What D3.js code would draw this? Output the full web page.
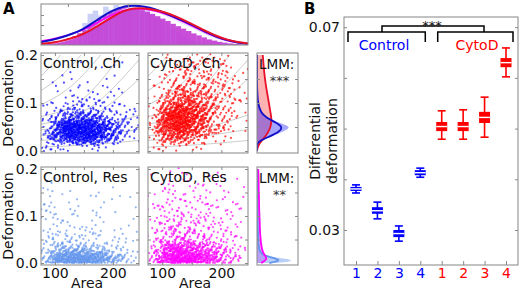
<!DOCTYPE html>
<html lang="en">
<head>
<meta charset="UTF-8">
<title>Deformation, Ch vs Res</title>
<style>
  body { margin: 0; background: #fff; }
  svg text { font-family: "DejaVu Sans", sans-serif; }
  .frame { fill: none; stroke: #858585; stroke-width: 1; }
</style>
</head>
<body>
<svg width="520" height="290"></svg>
<script src="https://d3js.org/d3.v7.min.js"></script>
<script>

// ---------------- data ----------------

// scatter panels: dot counts per cell, rows = deformation bins (bottom to top), cols = area bins
const areaDomain = [76, 245];
const areaEdges = [76, 95, 114, 133, 152, 171, 190, 209, 228, 247];
const defEdges = [0, 0.02, 0.04, 0.06, 0.08, 0.10, 0.12, 0.14, 0.16, 0.18, 0.20];

const controlCh = [
  [6, 5, 4, 3, 3, 2, 1, 1, 1],
  [8, 45, 75, 85, 75, 55, 30, 10, 3],
  [6, 50, 90, 100, 90, 65, 35, 12, 6],
  [4, 16, 28, 34, 30, 22, 12, 6, 5],
  [2, 5, 8, 10, 9, 7, 5, 3, 1],
  [1, 2, 3, 4, 4, 3, 2, 1, 0],
  [0, 1, 2, 2, 2, 2, 1, 1, 0],
  [0, 1, 1, 1, 1, 1, 1, 0, 0],
  [0, 0, 1, 1, 0, 1, 0, 1, 0],
  [0, 0, 0, 1, 0, 0, 1, 0, 0]
];
const cytoCh = [
  [3, 5, 4, 3, 2, 1, 1, 0, 0],
  [6, 30, 40, 32, 18, 9, 4, 2, 1],
  [8, 55, 80, 65, 40, 18, 8, 4, 2],
  [6, 55, 85, 75, 45, 24, 11, 5, 2],
  [4, 32, 55, 55, 38, 22, 11, 5, 2],
  [2, 14, 30, 32, 25, 16, 10, 5, 2],
  [1, 7, 15, 19, 16, 12, 8, 4, 2],
  [0, 3, 8, 12, 12, 10, 7, 4, 2],
  [0, 2, 5, 8, 8, 7, 5, 3, 2],
  [0, 1, 3, 5, 5, 5, 4, 2, 1]
];
const controlRes = [
  [18, 75, 100, 100, 90, 70, 40, 16, 5],
  [10, 24, 26, 24, 18, 14, 9, 5, 2],
  [6, 8, 8, 7, 6, 5, 3, 2, 1],
  [5, 4, 4, 3, 3, 2, 2, 1, 1],
  [4, 3, 3, 2, 2, 2, 1, 1, 0],
  [4, 2, 2, 2, 1, 2, 1, 0, 1],
  [3, 2, 1, 1, 1, 1, 1, 1, 0],
  [3, 1, 1, 0, 1, 1, 0, 1, 0],
  [2, 1, 0, 0, 0, 0, 1, 0, 0],
  [1, 0, 0, 0, 0, 0, 0, 0, 0]
];
const cytoRes = [
  [12, 70, 95, 95, 80, 55, 28, 12, 4],
  [8, 45, 65, 60, 45, 30, 15, 7, 3],
  [6, 16, 20, 18, 15, 11, 7, 4, 2],
  [5, 10, 12, 10, 9, 7, 5, 3, 2],
  [4, 7, 8, 8, 7, 5, 4, 3, 1],
  [3, 5, 6, 6, 5, 4, 3, 2, 1],
  [2, 4, 4, 4, 4, 3, 3, 2, 1],
  [2, 3, 3, 3, 3, 3, 2, 2, 1],
  [1, 2, 2, 2, 2, 2, 2, 1, 1],
  [1, 1, 1, 2, 1, 1, 1, 1, 0]
];

// grey isoelasticity lines (area, deformation)
const isoLines = [
  [[76, 0.156], [93, 0.177], [110, 0.2]],
  [[76, 0.126], [112, 0.158], [145, 0.2]],
  [[76, 0.096], [128, 0.135], [179, 0.2]],
  [[76, 0.072], [145, 0.105], [214, 0.2]],
  [[76, 0.056], [160, 0.09], [245, 0.19]],
  [[76, 0.044], [160, 0.07], [245, 0.15]],
  [[76, 0.032], [160, 0.045], [245, 0.075]],
  [[76, 0.022], [160, 0.03], [245, 0.045]],
  [[76, 0.008], [160, 0.013], [245, 0.022]]
];

// top histogram (40 bins, relative height)
const topHist = [0.05, 0.06, 0.08, 0.10, 0.13, 0.17, 0.22, 0.29, 0.37, 0.47,
  0.57, 0.66, 0.74, 0.82, 0.88, 0.92, 0.94, 0.93, 0.91, 0.87,
  0.83, 0.78, 0.72, 0.66, 0.60, 0.53, 0.47, 0.41, 0.35, 0.29,
  0.24, 0.19, 0.14, 0.11, 0.08, 0.06, 0.04, 0.03, 0.02, 0.02];
const topHistLight = [0, 0, 0, 0, 0, 0, 0.05, 0.30, 0.55, 0.78,
  0.86, 0.74, 0.96, 0.88, 1.0, 0.90, 1.0, 0.95, 0.97, 0.88,
  0.86, 0.76, 0.70, 0.60, 0.50, 0.40, 0.32, 0.24, 0.17, 0.12,
  0.08, 0.05, 0.03, 0.02, 0.02, 0.02, 0.02, 0.02, 0.02, 0.02];
// fitted curves, sampled every 2 bins
const topFitBins = [0, 2, 4, 6, 8, 10, 12, 14, 16, 18, 20, 22, 24, 26, 28, 30, 32, 34, 36, 38, 40];
const topFitBlue = [0.07, 0.12, 0.19, 0.28, 0.38, 0.55, 0.73, 0.87, 0.97, 0.99, 0.96, 0.90, 0.80, 0.68, 0.58, 0.45, 0.32, 0.20, 0.12, 0.06, 0.03];
const topFitRed = [0.03, 0.05, 0.10, 0.17, 0.26, 0.40, 0.56, 0.72, 0.86, 0.92, 0.92, 0.88, 0.82, 0.72, 0.60, 0.47, 0.34, 0.22, 0.13, 0.07, 0.04];
const topFitMagenta = [0.10, 0.14, 0.20, 0.28, 0.37, 0.50, 0.64, 0.77, 0.87, 0.91, 0.90, 0.86, 0.78, 0.67, 0.55, 0.42, 0.30, 0.19, 0.11, 0.06, 0.03];
const topFitLight = [0.02, 0.04, 0.08, 0.15, 0.26, 0.42, 0.60, 0.77, 0.90, 0.95, 0.92, 0.85, 0.74, 0.62, 0.50, 0.38, 0.26, 0.16, 0.09, 0.04, 0.02];

// marginal deformation densities (LMM panels)
const margDef = [0, 0.005, 0.01, 0.015, 0.02, 0.03, 0.04, 0.05, 0.06, 0.07, 0.08, 0.1, 0.12, 0.14, 0.16, 0.18, 0.2];
const chBlueHist = [0, 0, 0, 0.02, 0.06, 0.35, 0.62, 0.87, 0.50, 0.24, 0.10, 0.03, 0.01, 0.01, 0, 0, 0];
const chBlueLine = [0, 0, 0, 0.01, 0.04, 0.30, 0.55, 0.63, 0.45, 0.22, 0.09, 0.02, 0.01, 0, 0, 0, 0];
const chRedLine = [0, 0.01, 0.03, 0.06, 0.10, 0.20, 0.28, 0.33, 0.35, 0.35, 0.33, 0.29, 0.25, 0.21, 0.18, 0.16, 0.14];
const resLightHist = [0.50, 0.97, 0.60, 0.25, 0.12, 0.06, 0.04, 0.03, 0.03, 0.02, 0.02, 0.02, 0.01, 0.01, 0.01, 0.01, 0];
const resLightLine = [0.30, 0.58, 0.45, 0.20, 0.10, 0.05, 0.04, 0.03, 0.03, 0.02, 0.02, 0.02, 0.01, 0.01, 0.01, 0.01, 0];
const resMagentaLine = [0.10, 0.20, 0.24, 0.20, 0.16, 0.12, 0.10, 0.09, 0.08, 0.07, 0.07, 0.06, 0.05, 0.05, 0.04, 0.04, 0.03];

// panel B: differential deformation per measurement
const measurements = ['C1', 'C2', 'C3', 'C4', 'D1', 'D2', 'D3', 'D4'];
const whiskerLow = [0.0373, 0.0322, 0.0278, 0.0404, 0.0479, 0.0479, 0.0483, 0.0602];
const quartileLow = [0.0377, 0.0332, 0.0286, 0.0408, 0.0495, 0.0495, 0.0511, 0.0621];
const medians = [0.0381, 0.0338, 0.0293, 0.0413, 0.0504, 0.0504, 0.0522, 0.0630];
const quartileHigh = [0.0385, 0.0345, 0.0300, 0.0418, 0.0513, 0.0513, 0.0533, 0.0639];
const whiskerHigh = [0.0389, 0.0355, 0.0308, 0.0422, 0.0535, 0.0537, 0.0562, 0.0659];
const bTickValues = [0.03, 0.04, 0.05, 0.06, 0.07];

// ---------------- drawing ----------------

const BLUE = '#0000ff', RED = '#ff0000', LIGHT = '#6495ed', MAGENTA = '#ff00ff';
const svg = d3.select('svg');

function frac(v) { return v - Math.floor(v); }

// 4-d additive recurrence (plastic-number generalisation), used to lay dots out evenly
const R4 = [0.8566748839, 0.7338918566, 0.6287067210, 0.5385972572];

function styleAxis(g, size) {
  g.select('.domain').remove();
  g.selectAll('line').attr('stroke', '#8a8a8a');
  g.selectAll('text').attr('font-size', size).attr('font-family', 'DejaVu Sans').attr('fill', '#111');
}

function clipRect(id, x0, y0, x1, y1) {
  svg.append('clipPath').attr('id', id).append('rect')
    .attr('x', x0).attr('y', y0).attr('width', x1 - x0).attr('height', y1 - y0);
}

// ----- top histogram
(function () {
  const x0 = 41, x1 = 248, y0 = 4, y1 = 45;
  const x = d3.scaleLinear().domain([0, 40]).range([x0, x1]);
  const y = d3.scaleLinear().domain([0, 1]).range([y1, y0 + 1]);
  clipRect('clipTop', x0, y0, x1, y1);
  const g = svg.append('g').attr('clip-path', 'url(#clipTop)');

  g.selectAll('rect.light').data(topHistLight).join('rect')
    .attr('x', (d, i) => x(i)).attr('width', x(1) - x(0) + 0.3)
    .attr('y', d => y(d)).attr('height', d => y1 - y(d))
    .attr('fill', '#b3bcf2').attr('opacity', 0.7);
  g.selectAll('rect.main').data(topHist).join('rect')
    .attr('x', (d, i) => x(i)).attr('width', x(1) - x(0) + 0.3)
    .attr('y', d => y(d)).attr('height', d => y1 - y(d))
    .attr('fill', '#c440d6').attr('opacity', 0.92);

  const line = vals => d3.line().x((d, i) => x(topFitBins[i])).y(d => y(d)).curve(d3.curveBasis)(vals);
  g.append('path').attr('d', line(topFitLight)).attr('fill', 'none').attr('stroke', '#e2e4ff').attr('stroke-width', 1.2);
  g.append('path').attr('d', line(topFitMagenta)).attr('fill', 'none').attr('stroke', MAGENTA).attr('stroke-width', 1.6);
  g.append('path').attr('d', line(topFitBlue)).attr('fill', 'none').attr('stroke', '#1010c8').attr('stroke-width', 2);
  g.append('path').attr('d', line(topFitRed)).attr('fill', 'none').attr('stroke', '#e8102a').attr('stroke-width', 2);

  svg.append('rect').attr('class', 'frame').attr('x', x0).attr('y', y0).attr('width', x1 - x0).attr('height', y1 - y0);
  const yl = svg.append('g').attr('transform', `translate(${x0},0)`)
    .call(d3.axisLeft(y).tickValues([0.25, 0.5, 0.75]).tickSize(-3).tickFormat(''));
  styleAxis(yl, 10);
  const xt = svg.append('g').attr('transform', `translate(0,${y0})`)
    .call(d3.axisTop(x).tickValues([5.2, 16.8, 28.4]).tickSize(-3).tickFormat(''));
  styleAxis(xt, 10);
})();

// ----- scatter panels
const scatterPanels = [
  { id: 'sc1', grid: controlCh, color: BLUE, x0: 41, x1: 139, y0: 53, y1: 153, title: 'Control, Ch', iso: true, left: true, bottom: false },
  { id: 'sc2', grid: cytoCh, color: RED, x0: 148, x1: 248, y0: 53, y1: 153, title: 'CytoD, Ch', iso: true, left: false, bottom: false },
  { id: 'sc3', grid: controlRes, color: LIGHT, x0: 41, x1: 139, y0: 167, y1: 265, title: 'Control, Res', iso: false, left: true, bottom: true },
  { id: 'sc4', grid: cytoRes, color: MAGENTA, x0: 148, x1: 248, y0: 167, y1: 265, title: 'CytoD, Res', iso: false, left: false, bottom: true }
];

function defScale(p) {
  return d3.scaleLinear().domain([0, 0.2]).range([p.y1 - 2, p.y0 + 2]);
}

scatterPanels.forEach((p, pi) => {
  const x = d3.scaleLinear().domain(areaDomain).range([p.x0, p.x1]);
  const y = defScale(p);
  clipRect(p.id, p.x0, p.y0, p.x1, p.y1);
  const g = svg.append('g').attr('clip-path', `url(#${p.id})`);

  if (p.iso) {
    const line = d3.line().x(d => x(d[0])).y(d => y(d[1])).curve(d3.curveMonotoneX);
    g.selectAll('path.iso').data(isoLines).join('path').attr('class', 'iso')
      .attr('d', line).attr('fill', 'none').attr('stroke', '#c6c6c6').attr('stroke-width', 0.9);
  }

  // each cell's dots spread over the cell and half of its neighbours (triangular kernel),
  // laid out with a fixed low-discrepancy sequence so the density changes smoothly
  const pts = [];
  let n0 = pi * 5000;
  p.grid.forEach((row, ri) => row.forEach((n, ci) => {
    const aw = areaEdges[ci + 1] - areaEdges[ci];
    const dw = defEdges[ri + 1] - defEdges[ri];
    for (let k = 0; k < n; k++) {
      const j = n0 + k;
      const u = frac(0.5 + j * R4[0]) + frac(0.5 + j * R4[1]) - 0.5;
      const v = frac(0.5 + j * R4[2]) + frac(0.5 + j * R4[3]) - 0.5;
      let d = defEdges[ri] + v * dw;
      if (d < 0) d = -d;
      pts.push([areaEdges[ci] + u * aw, d]);
    }
    n0 += n + 7;
  }));
  g.selectAll('circle').data(pts).join('circle')
    .attr('cx', d => x(d[0])).attr('cy', d => y(d[1]))
    .attr('r', 1.1).attr('fill', p.color).attr('fill-opacity', 0.7);

  svg.append('rect').attr('class', 'frame')
    .attr('x', p.x0).attr('y', p.y0).attr('width', p.x1 - p.x0).attr('height', p.y1 - p.y0);

  const yTicks = [0, 0.05, 0.1, 0.15, 0.2];
  const yl = svg.append('g').attr('transform', `translate(${p.x0},0)`)
    .call(d3.axisLeft(y).tickValues(yTicks).tickSize(-3).tickPadding(3)
      .tickFormat(d => (p.left && Math.round(d * 100) % 10 === 0) ? d3.format('.1f')(d) : ''));
  styleAxis(yl, 14);
  const yr = svg.append('g').attr('transform', `translate(${p.x1},0)`)
    .call(d3.axisRight(y).tickValues(yTicks).tickSize(-3).tickFormat(''));
  styleAxis(yr, 10);

  const xTicks = [100, 150, 200];
  const xb = svg.append('g').attr('transform', `translate(0,${p.y1})`)
    .call(d3.axisBottom(x).tickValues(xTicks).tickSize(-3).tickPadding(3)
      .tickFormat(d => (p.bottom && d !== 150) ? d : ''));
  styleAxis(xb, 14);
  const xtp = svg.append('g').attr('transform', `translate(0,${p.y0})`)
    .call(d3.axisTop(x).tickValues(xTicks).tickSize(-3).tickFormat(''));
  styleAxis(xtp, 10);

  svg.append('text').attr('x', p.x0 + 2).attr('y', p.y0 + 15)
    .attr('font-size', 14).attr('fill', '#111').text(p.title);

  if (p.bottom) {
    svg.append('text').attr('x', (p.x0 + p.x1) / 2 - 3).attr('y', 288)
      .attr('text-anchor', 'middle').attr('font-size', 14).attr('fill', '#111').text('Area');
  }
  if (p.left) {
    svg.append('text')
      .attr('transform', `translate(13,${(p.y0 + p.y1) / 2}) rotate(-90)`)
      .attr('text-anchor', 'middle').attr('font-size', 14).attr('fill', '#111').text('Deformation');
  }
});

// ----- marginal LMM panels
const margPanels = [
  { id: 'mg1', y0: 53, y1: 153, stars: '***',
    fills: [[chRedLine, RED, 0.3], [chBlueHist, BLUE, 0.35]],
    lines: [[chRedLine, '#e8102a'], [chBlueLine, '#1010c8']] },
  { id: 'mg2', y0: 167, y1: 265, stars: '**',
    fills: [[resMagentaLine, MAGENTA, 0.35], [resLightHist, LIGHT, 0.45]],
    lines: [[resLightLine, LIGHT], [resMagentaLine, MAGENTA]] }
];

margPanels.forEach(p => {
  const x0 = 257, x1 = 298;
  const x = d3.scaleLinear().domain([0, 1]).range([x0, x1]);
  const y = defScale(p);
  clipRect(p.id, x0, p.y0, x1, p.y1);
  const g = svg.append('g').attr('clip-path', `url(#${p.id})`);

  const area = d3.area().y((d, i) => y(margDef[i])).x0(x0).x1(d => x(d)).curve(d3.curveBasis);
  const line = d3.line().y((d, i) => y(margDef[i])).x(d => x(d)).curve(d3.curveBasis);
  p.fills.forEach(f => {
    g.append('path').attr('d', area(f[0])).attr('fill', f[1]).attr('fill-opacity', f[2]);
  });
  p.lines.forEach(l => {
    g.append('path').attr('d', line(l[0])).attr('fill', 'none').attr('stroke', l[1]).attr('stroke-width', 1.8);
  });

  svg.append('rect').attr('class', 'frame').attr('x', x0).attr('y', p.y0).attr('width', x1 - x0).attr('height', p.y1 - p.y0);
  const yTicks = [0.05, 0.1, 0.15];
  const yr = svg.append('g').attr('transform', `translate(${x1},0)`)
    .call(d3.axisRight(y).tickValues(yTicks).tickSize(-3).tickFormat(''));
  styleAxis(yr, 10);
  const yl = svg.append('g').attr('transform', `translate(${x0},0)`)
    .call(d3.axisLeft(y).tickValues(yTicks).tickSize(-3).tickFormat(''));
  styleAxis(yl, 10);

  svg.append('text').attr('x', x0 + 2).attr('y', p.y0 + 16)
    .attr('font-size', 13.5).attr('fill', '#111').text('LMM:');
  svg.append('text').attr('x', (x0 + x1) / 2 + 2).attr('y', p.y0 + 32)
    .attr('text-anchor', 'middle').attr('font-size', 13).attr('fill', '#333').text(p.stars);
});

// ----- panel B
(function () {
  const x0 = 344, x1 = 518, y0 = 17, y1 = 265;
  const x = d3.scalePoint().domain(measurements).range([356, 506]);
  const y = d3.scaleLinear().domain([0.0231, 0.0720]).range([y1, y0]);
  const colorOf = m => m[0] === 'C' ? BLUE : RED;

  svg.append('rect').attr('class', 'frame').attr('x', x0).attr('y', y0).attr('width', x1 - x0).attr('height', y1 - y0);

  const yl = svg.append('g').attr('transform', `translate(${x0},0)`)
    .call(d3.axisLeft(y).tickValues(bTickValues).tickSize(-3).tickPadding(4)
      .tickFormat(d => (d === 0.03 || d === 0.07) ? d3.format('.2f')(d) : ''));
  styleAxis(yl, 14);
  const yr = svg.append('g').attr('transform', `translate(${x1},0)`)
    .call(d3.axisRight(y).tickValues(bTickValues).tickSize(-3).tickFormat(''));
  styleAxis(yr, 10);
  const xb = svg.append('g').attr('transform', `translate(0,${y1})`)
    .call(d3.axisBottom(x).tickSize(-4).tickPadding(3).tickFormat(d => d.slice(1)));
  styleAxis(xb, 14);
  xb.selectAll('text').attr('fill', d => colorOf(d));

  const boxes = measurements.map((m, i) => ({
    m, lo: whiskerLow[i], q1: quartileLow[i], med: medians[i], q3: quartileHigh[i], hi: whiskerHigh[i]
  }));
  const bg = svg.append('g').selectAll('g').data(boxes).join('g');
  bg.append('line')
    .attr('x1', d => x(d.m)).attr('x2', d => x(d.m))
    .attr('y1', d => y(d.lo)).attr('y2', d => y(d.hi))
    .attr('stroke', d => colorOf(d.m)).attr('stroke-width', 1.6);
  ['lo', 'hi'].forEach(k => {
    bg.append('line')
      .attr('x1', d => x(d.m) - 4).attr('x2', d => x(d.m) + 4)
      .attr('y1', d => y(d[k])).attr('y2', d => y(d[k]))
      .attr('stroke', d => colorOf(d.m)).attr('stroke-width', 1.6);
  });
  bg.append('rect')
    .attr('x', d => x(d.m) - 5.5).attr('width', 11)
    .attr('y', d => y(d.q3)).attr('height', d => y(d.q1) - y(d.q3))
    .attr('fill', d => colorOf(d.m));
  bg.append('line')
    .attr('x1', d => x(d.m) - 5.5).attr('x2', d => x(d.m) + 5.5)
    .attr('y1', d => y(d.med)).attr('y2', d => y(d.med))
    .attr('stroke', '#fff').attr('stroke-width', 1.4);

  // significance brackets
  const yb = 32, yLeg = 42, yTop = 26;
  const cL = x('C1') - 8, cR = x('C4') + 5, dL = x('D1') - 4, dR = x('D4') + 7;
  const br = svg.append('g').attr('fill', 'none').attr('stroke', '#000').attr('stroke-width', 1.5);
  br.append('path').attr('d', `M${cL},${yLeg}V${yb}H${cR}V${yLeg}`);
  br.append('path').attr('d', `M${dL},${yLeg}V${yb}H${dR}V${yLeg}`);
  br.append('path').attr('d', `M382,${yb}V${yTop}H484V${yb}`);
  svg.append('text').attr('x', 432).attr('y', 30).attr('text-anchor', 'middle')
    .attr('font-size', 13).attr('fill', '#111').text('***');

  svg.append('text').attr('x', 384).attr('y', 50).attr('text-anchor', 'middle')
    .attr('font-size', 14).attr('fill', BLUE).text('Control');
  svg.append('text').attr('x', 477).attr('y', 50).attr('text-anchor', 'middle')
    .attr('font-size', 14).attr('fill', RED).text('CytoD');

  const lbl = svg.append('text').attr('transform', 'translate(320,141) rotate(-90)')
    .attr('text-anchor', 'middle').attr('font-size', 14).attr('fill', '#111');
  lbl.append('tspan').attr('x', 0).attr('dy', 0).text('Differential');
  lbl.append('tspan').attr('x', 0).attr('dy', 17).text('deformation');
})();

// panel letters
svg.append('text').attr('x', 3).attr('y', 14).attr('font-size', 15).attr('font-weight', 'bold').text('A');
svg.append('text').attr('x', 304).attr('y', 14).attr('font-size', 15).attr('font-weight', 'bold').text('B');

</script>
</body>
</html>
